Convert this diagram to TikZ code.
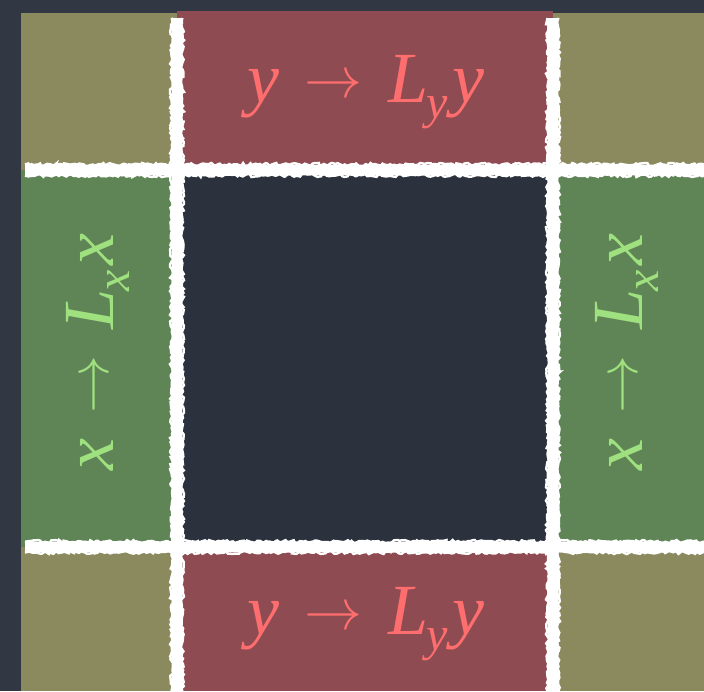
\RequirePackage{fix-cm}
\documentclass[tikz,border=0pt]{standalone}
\usepackage{fontspec}
\setmainfont{Liberation Serif}
\usetikzlibrary{decorations.pathmorphing}
\definecolor{board}{HTML}{323744}
\definecolor{boardin}{HTML}{2C313E}
\definecolor{olivecell}{HTML}{8A8A5E}
\definecolor{redcell}{HTML}{8E4B51}
\definecolor{greencell}{HTML}{5F8557}
\definecolor{redtext}{HTML}{FF6E6E}
\definecolor{greentext}{HTML}{9FE07F}
\newcommand{\maparrow}{\raisebox{0.07em}{\fontsize{58}{60}\selectfont$\rightarrow$}}
\newcommand{\maplabel}[1]{{\itshape #1}\hspace{0.35em}\maparrow\hspace{0.35em}{\itshape L}\hspace{-0.02em}\raisebox{-0.22em}{\fontsize{48}{50}\selectfont\itshape #1}\hspace{0.06em}{\itshape #1}}
\tikzset{
  chalkcore/.style={draw=white,line width=10pt},
  chalkedge/.style={draw=white,line width=2.5pt,decorate,
    decoration={random steps,segment length=2.5pt,amplitude=1.5pt}},
  redlabel/.style={text=redtext,font=\fontsize{72}{80}\selectfont,inner sep=0pt},
  greenlabel/.style={text=greentext,font=\fontsize{72}{80}\selectfont,inner sep=0pt,rotate=90},
}
\begin{document}
\begin{tikzpicture}[x=1pt,y=-1pt]
\useasboundingbox (0,0) rectangle (704,691);
\fill[board] (0,0) rectangle (704,691);
% cells
\fill[olivecell] (21,13) rectangle (177,170);
\fill[redcell] (177,11) rectangle (553,170);
\fill[olivecell] (553,13) rectangle (704,170);
\fill[greencell] (21,170) rectangle (177,547);
\fill[boardin] (177,170) rectangle (553,547);
\fill[greencell] (553,170) rectangle (704,547);
\fill[olivecell] (21,547) rectangle (177,691);
\fill[redcell] (177,547) rectangle (553,691);
\fill[olivecell] (553,547) rectangle (704,691);
% chalk lines
\coordinate (v1t) at (177,18); \coordinate (v1b) at (177,691);
\coordinate (v2t) at (553,18); \coordinate (v2b) at (553,691);
\coordinate (h1l) at (25,170); \coordinate (h1r) at (704,170);
\coordinate (h2l) at (25,547); \coordinate (h2r) at (704,547);
\foreach \a/\b in {v1t/v1b,v2t/v2b,h1l/h1r,h2l/h2r}{
  \draw[chalkcore] (\a) -- (\b);
}
\foreach \dx in {-5.5,5.5}{
  \draw[chalkedge] ([xshift=\dx pt]v1t) -- ([xshift=\dx pt]v1b);
  \draw[chalkedge] ([xshift=\dx pt]v2t) -- ([xshift=\dx pt]v2b);
  \draw[chalkedge] ([yshift=\dx pt]h1l) -- ([yshift=\dx pt]h1r);
  \draw[chalkedge] ([yshift=\dx pt]h2l) -- ([yshift=\dx pt]h2r);
}
% labels
\node[redlabel] (top) at (366,92) {\maplabel{y}};
\node[redlabel] (bottom) at (366,624) {\maplabel{y}};
\node[greenlabel] (left) at (98,352) {\maplabel{x}};
\node[greenlabel] (right) at (627,352) {\maplabel{x}};
\end{tikzpicture}
\end{document}
